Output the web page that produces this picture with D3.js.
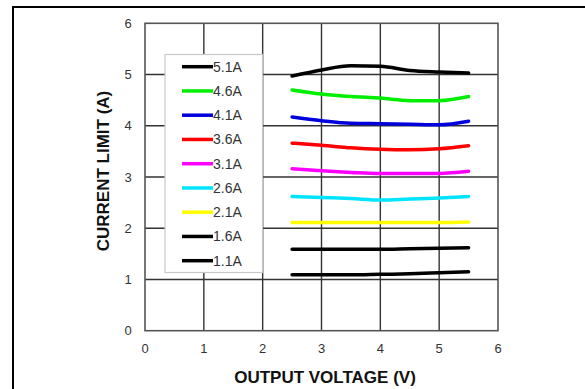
<!DOCTYPE html>
<html>
<head>
<meta charset="utf-8">
<script src="https://cdn.jsdelivr.net/npm/d3@7"></script>
<style>
  html, body { margin: 0; padding: 0; background: #fff; }
  svg { display: block; }
  text { font-family: "Liberation Sans", Arial, sans-serif; }
</style>
</head>
<body>
<script>
// ---- Data ----
const voltages = [2.5, 3, 3.5, 4, 4.5, 5, 5.5];
const seriesNames = ["5.1A", "4.6A", "4.1A", "3.6A", "3.1A", "2.6A", "2.1A", "1.6A", "1.1A"];
const seriesColors = ["#000000", "#00ee00", "#0000dd", "#ff0000", "#ff00ff", "#00e5ff", "#ffff00", "#000000", "#000000"];
const s51 = [4.97, 5.09, 5.17, 5.16, 5.08, 5.05, 5.03];
const s46 = [4.70, 4.62, 4.57, 4.54, 4.49, 4.49, 4.57];
const s41 = [4.17, 4.10, 4.05, 4.04, 4.03, 4.02, 4.09];
const s36 = [3.66, 3.62, 3.57, 3.54, 3.53, 3.55, 3.61];
const s31 = [3.16, 3.12, 3.09, 3.07, 3.07, 3.07, 3.11];
const s26 = [2.62, 2.60, 2.58, 2.55, 2.57, 2.59, 2.62];
const s21 = [2.11, 2.11, 2.11, 2.11, 2.11, 2.11, 2.12];
const s16 = [1.59, 1.59, 1.59, 1.59, 1.60, 1.61, 1.62];
const s11 = [1.09, 1.09, 1.09, 1.10, 1.11, 1.13, 1.15];
const seriesValues = [s51, s46, s41, s36, s31, s26, s21, s16, s11];
const xTicks = [0, 1, 2, 3, 4, 5, 6];
const yTicks = [0, 1, 2, 3, 4, 5, 6];
const xTitle = "OUTPUT VOLTAGE (V)";
const yTitle = "CURRENT LIMIT (A)";

// ---- Layout ----
const W = 585, H = 389;
const svg = d3.select("body").append("svg").attr("width", W).attr("height", H);

// outer frame (left + top only visible)
svg.append("path")
  .attr("d", d3.line()([[13, H + 2], [13, 7], [W + 2, 7]]))
  .attr("fill", "none").attr("stroke", "#000").attr("stroke-width", 2);

const x = d3.scaleLinear().domain([0, 6]).range([145, 498]);
const y = d3.scaleLinear().domain([0, 6]).range([330.7, 23.3]);

const g = svg.append("g");

// grid lines
g.append("g").selectAll("line").data(xTicks.slice(1, -1)).join("line")
  .attr("x1", d => x(d)).attr("x2", d => x(d))
  .attr("y1", y(0)).attr("y2", y(6))
  .attr("stroke", "#333").attr("stroke-width", 1.4);
g.append("g").selectAll("line").data(yTicks.slice(1, -1)).join("line")
  .attr("y1", d => y(d)).attr("y2", d => y(d))
  .attr("x1", x(0)).attr("x2", x(6))
  .attr("stroke", "#333").attr("stroke-width", 1.4);
// plot frame
g.append("rect")
  .attr("x", x(0)).attr("y", y(6))
  .attr("width", x(6) - x(0)).attr("height", y(0) - y(6))
  .attr("fill", "none").attr("stroke", "#555").attr("stroke-width", 1.6);

// tick labels
g.append("g").selectAll("text").data(xTicks).join("text")
  .attr("x", d => x(d)).attr("y", 353)
  .attr("text-anchor", "middle")
  .attr("font-size", 13).attr("fill", "#333")
  .text(d => d);
g.append("g").selectAll("text").data(yTicks).join("text")
  .attr("x", 128).attr("y", d => y(d) + 4.5)
  .attr("text-anchor", "middle")
  .attr("font-size", 13).attr("fill", "#333")
  .text(d => d);

// axis titles
svg.append("text")
  .attr("x", 325).attr("y", 383)
  .attr("text-anchor", "middle")
  .attr("font-size", 17).attr("font-weight", "bold").attr("fill", "#111")
  .text(xTitle);
svg.append("text")
  .attr("transform", "translate(109,171) rotate(-90)")
  .attr("text-anchor", "middle")
  .attr("font-size", 17).attr("font-weight", "bold").attr("fill", "#111")
  .text(yTitle);

// legend
const lg = svg.append("g");
lg.append("rect")
  .attr("x", 165).attr("y", 54.5).attr("width", 97.5).attr("height", 218)
  .attr("fill", "#fff").attr("stroke", "#c8c8c8").attr("stroke-width", 1.2);
const items = lg.selectAll("g.item").data(seriesNames).join("g")
  .attr("class", "item")
  .attr("transform", (d, i) => `translate(0,${66.7 + i * 24.25})`);
items.append("line")
  .attr("x1", 182).attr("x2", 213).attr("y1", 0).attr("y2", 0)
  .attr("stroke", (d, i) => seriesColors[i]).attr("stroke-width", 3.5);
items.append("text")
  .attr("x", 213).attr("y", 5)
  .attr("font-size", 14).attr("fill", "#333")
  .text(d => d);

// data lines
const line = d3.line().x((d, i) => x(voltages[i])).y(d => y(d)).curve(d3.curveMonotoneX);
svg.append("g").selectAll("path").data(seriesValues).join("path")
  .attr("d", d => line(d))
  .attr("fill", "none")
  .attr("stroke", (d, i) => seriesColors[i])
  .attr("stroke-width", 3.5)
  .attr("stroke-linecap", "round");
</script>
</body>
</html>
